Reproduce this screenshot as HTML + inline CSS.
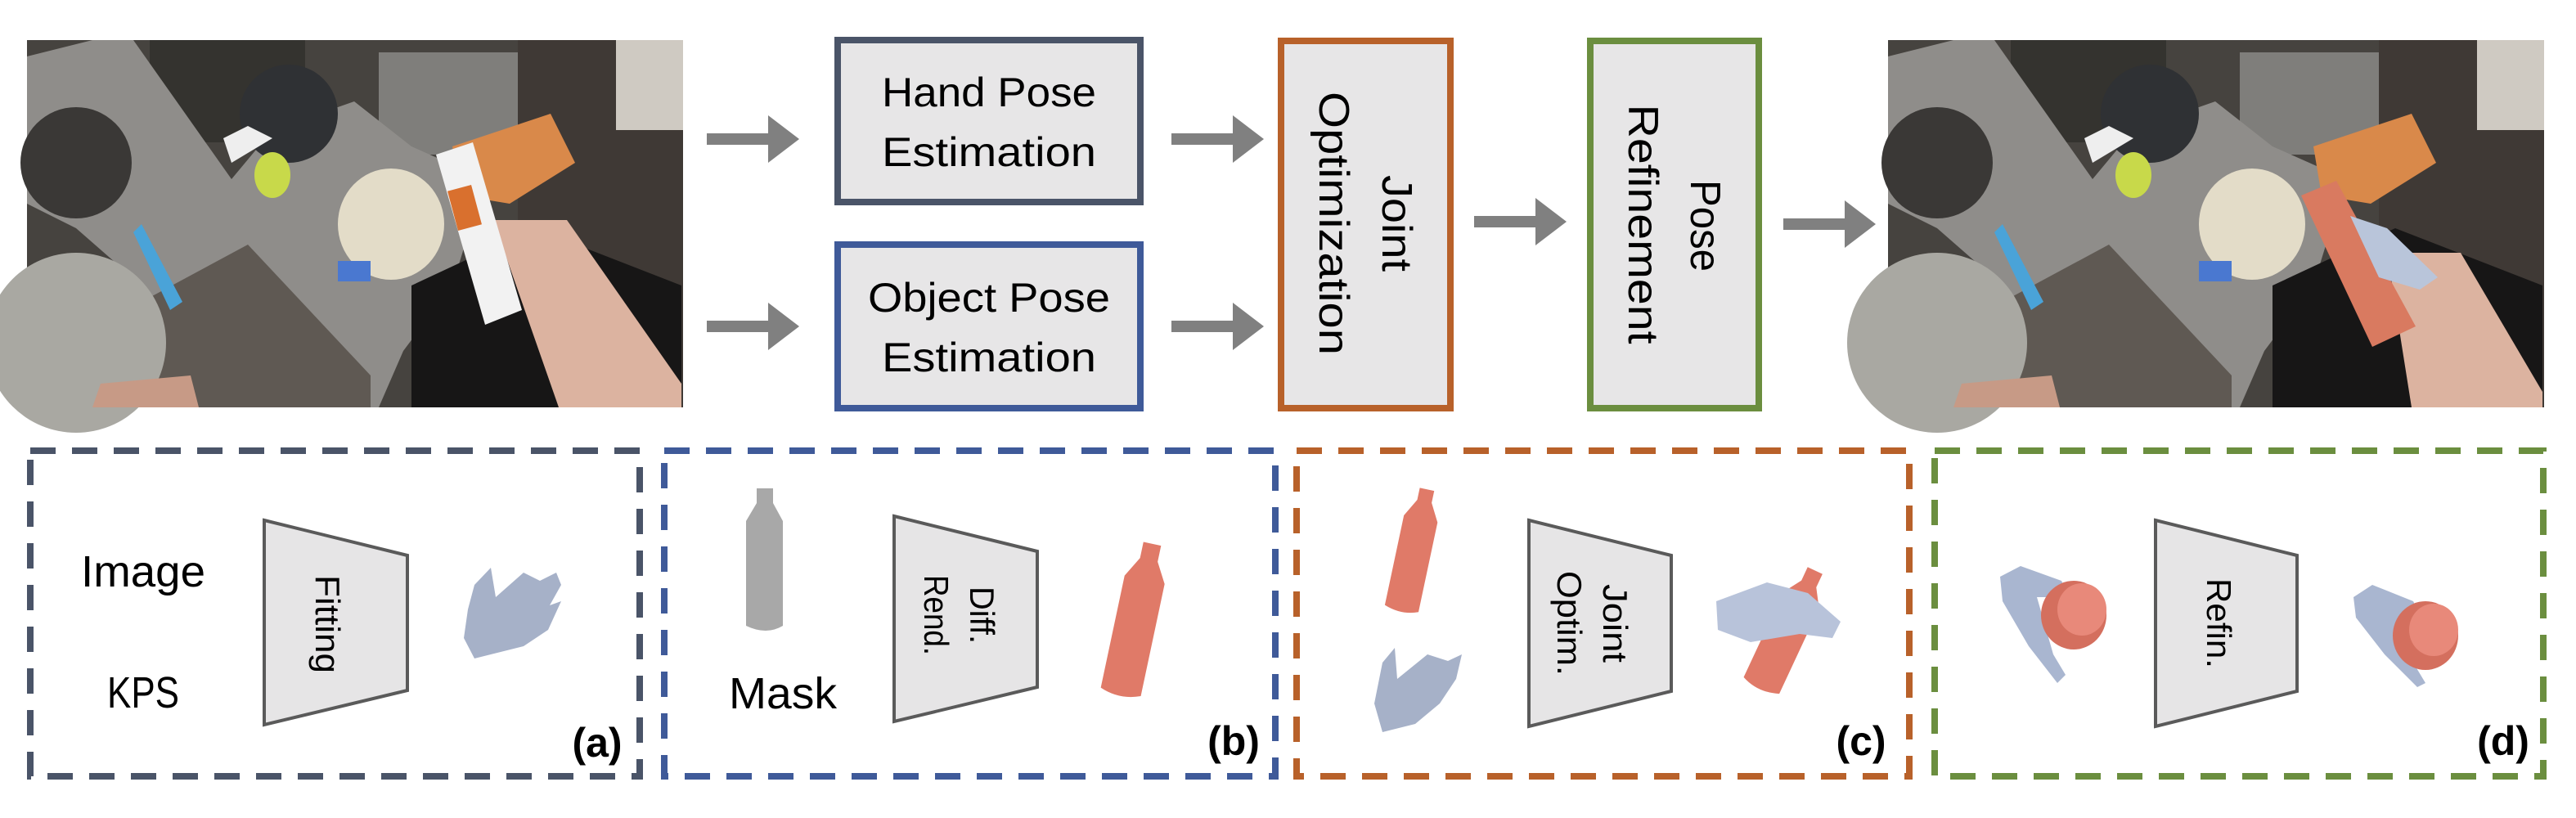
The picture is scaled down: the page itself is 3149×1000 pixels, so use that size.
<!DOCTYPE html>
<html><head><meta charset="utf-8"><style>
html,body{margin:0;padding:0;background:#fff;}
svg{display:block;}
text{font-family:"Liberation Sans",sans-serif;}
</style></head><body>
<svg width="3149" height="1000" viewBox="0 0 3149 1000" xmlns="http://www.w3.org/2000/svg">
<defs>
<g id="photo">
  <rect x="0" y="0" width="802" height="449" fill="#46433f"/>
  <rect x="150" y="0" width="190" height="125" fill="#34332f"/>
  <rect x="430" y="15" width="170" height="125" fill="#7f7e7b"/>
  <rect x="600" y="0" width="202" height="449" fill="#3f3935"/>
  <rect x="720" y="0" width="82" height="110" fill="#cfcac2"/>
  <polygon points="0,20 80,0 130,0 250,170 300,110 400,75 470,130 560,170 520,300 460,380 430,449 170,449 140,300 60,230 0,200" fill="#8f8d8a"/>
  <polygon points="150,449 140,320 270,250 420,410 420,449" fill="#5f5953"/>
  <polygon points="470,300 620,230 800,300 800,449 470,449" fill="#171616"/>
  <circle cx="60" cy="150" r="68" fill="#3a3836"/>
  <circle cx="320" cy="90" r="60" fill="#2f3134"/>
  <ellipse cx="60" cy="370" rx="110" ry="110" fill="#a9a8a2"/>
  <ellipse cx="445" cy="225" rx="65" ry="68" fill="#e3dcc8"/>
  <rect x="380" y="270" width="40" height="25" fill="#4a78d0"/>
  <polygon points="520,130 640,90 670,150 590,200 530,190" fill="#d9894a"/>
  <ellipse cx="300" cy="165" rx="22" ry="28" fill="#c8d94a"/>
  <polygon points="140,225 190,320 175,330 130,235" fill="#4aa3d8"/>
  <polygon points="240,120 270,105 300,120 250,150" fill="#eeeeee"/>
  <polygon points="90,420 200,410 210,449 80,449" fill="#c79a86"/>
</g>
</defs>

<!-- left photo -->
<g transform="translate(33,49)">
  <use href="#photo"/>
  <polygon points="570,220 660,220 800,420 800,449 650,449" fill="#dcb3a0"/>
  <polygon points="500,140 545,125 605,330 560,348" fill="#f2f2f2"/>
  <rect x="520" y="180" width="30" height="50" fill="#d9702e" transform="rotate(-15 535 205)"/>
</g>
<!-- right photo -->
<g transform="translate(2308,49)">
  <use href="#photo"/>
  <polygon points="610,260 700,260 800,430 800,449 640,449" fill="#dcb3a0"/>
  <polygon points="505,190 548,172 645,350 592,375" fill="#d97a60"/>
  <polygon points="565,215 610,230 672,290 650,305 600,290" fill="#b9c5da"/>
</g>

<!-- top boxes -->
<rect x="1024" y="49" width="370" height="198" fill="#e7e6e7" stroke="#4a5468" stroke-width="8"/>
<text x="1209" y="130" font-size="50" text-anchor="middle" textLength="262" lengthAdjust="spacingAndGlyphs">Hand Pose</text>
<text x="1209" y="203" font-size="50" text-anchor="middle" textLength="262" lengthAdjust="spacingAndGlyphs">Estimation</text>

<rect x="1024" y="299" width="370" height="200" fill="#e7e6e7" stroke="#3f5a99" stroke-width="8"/>
<text x="1209" y="381" font-size="50" text-anchor="middle" textLength="296" lengthAdjust="spacingAndGlyphs">Object Pose</text>
<text x="1209" y="454" font-size="50" text-anchor="middle" textLength="262" lengthAdjust="spacingAndGlyphs">Estimation</text>

<rect x="1566" y="50" width="207" height="449" fill="#e7e6e7" stroke="#b8612a" stroke-width="8"/>
<text transform="translate(1690,273) rotate(90)" font-size="52" text-anchor="middle" textLength="118" lengthAdjust="spacingAndGlyphs">Joint</text>
<text transform="translate(1613,273) rotate(90)" font-size="52" text-anchor="middle" textLength="322" lengthAdjust="spacingAndGlyphs">Optimization</text>

<rect x="1944" y="50" width="206" height="449" fill="#e7e6e7" stroke="#6b8e3f" stroke-width="8"/>
<text transform="translate(2067,276) rotate(90)" font-size="52" text-anchor="middle" textLength="112" lengthAdjust="spacingAndGlyphs">Pose</text>
<text transform="translate(1991,274) rotate(90)" font-size="52" text-anchor="middle" textLength="293" lengthAdjust="spacingAndGlyphs">Refinement</text>

<!-- arrows -->
<g fill="#808080">
  <path d="M864,163 h75 v-22 l38,29 l-38,29 v-22 h-75z"/>
  <path d="M864,392 h75 v-22 l38,29 l-38,29 v-22 h-75z"/>
  <path d="M1432,163 h75 v-22 l38,29 l-38,29 v-22 h-75z"/>
  <path d="M1432,392 h75 v-22 l38,29 l-38,29 v-22 h-75z"/>
  <path d="M1802,264 h75 v-22 l38,29 l-38,29 v-22 h-75z"/>
  <path d="M2180,267 h75 v-22 l38,29 l-38,29 v-22 h-75z"/>
</g>

<!-- dashed panels -->
<g fill="none" stroke-width="8" stroke-dasharray="31 20">
  <rect x="37" y="551" width="745" height="398" stroke="#4a5468"/>
  <rect x="812" y="551" width="747" height="398" stroke="#3f5a99"/>
  <rect x="1585" y="551" width="749" height="398" stroke="#b8612a"/>
  <rect x="2365" y="551" width="744" height="398" stroke="#6b8e3f"/>
</g>

<!-- trapezoids -->
<g fill="#e6e5e6" stroke="#5a5a5a" stroke-width="4">
  <polygon points="323,636 498,679 498,844 323,886"/>
  <polygon points="1093,631 1268,674 1268,840 1093,882"/>
  <polygon points="1869,636 2043,679 2043,845 1869,888"/>
  <polygon points="2635,636 2808,679 2808,845 2635,888"/>
</g>

<!-- panel a -->
<text x="175" y="717" font-size="54" text-anchor="middle" textLength="152" lengthAdjust="spacingAndGlyphs">Image</text>
<text x="175" y="865" font-size="54" text-anchor="middle" textLength="88" lengthAdjust="spacingAndGlyphs">KPS</text>
<text transform="translate(386,763) rotate(90)" font-size="42" text-anchor="middle" textLength="120" lengthAdjust="spacingAndGlyphs">Fitting</text>
<path d="M580,715 L600,694 L606,730 L640,700 L660,710 L680,700 L686,715 L672,740 L686,735 L670,770 L640,790 L580,805 L567,780 L572,745 Z" fill="#a6b1c8"/>
<text x="730" y="925" font-size="50" font-weight="bold" text-anchor="middle">(a)</text>

<!-- panel b -->
<path d="M925,597 h20 v18 l12,22 v128 q-20,12 -45,0 v-128 l13,-22z" fill="#a8a8a8"/>
<text x="957" y="866" font-size="54" text-anchor="middle" textLength="132" lengthAdjust="spacingAndGlyphs">Mask</text>
<text transform="translate(1186,752) rotate(90)" font-size="42" text-anchor="middle" textLength="70" lengthAdjust="spacingAndGlyphs">Diff.</text>
<text transform="translate(1130,752) rotate(90)" font-size="42" text-anchor="middle" textLength="98" lengthAdjust="spacingAndGlyphs">Rend.</text>
<g transform="rotate(12 1390 757)"><path d="M1378,663 h22 v20 l14,25 v140 q-25,10 -50,0 v-140 l14,-25z" fill="#e07a68"/></g>
<text x="1508" y="923" font-size="50" font-weight="bold" text-anchor="middle">(b)</text>

<!-- panel c -->
<g transform="rotate(12 1731 671)"><path d="M1720,597 h18 v15 l12,22 v112 q-20,8 -42,0 v-112 l12,-22z" fill="#e07a68"/></g>
<path d="M1690,810 L1705,792 L1708,830 L1745,800 L1770,808 L1787,800 L1780,830 L1760,860 L1730,885 L1690,895 L1680,860 Z" fill="#a6b1c8"/>
<text transform="translate(1960,762) rotate(90)" font-size="42" text-anchor="middle" textLength="96" lengthAdjust="spacingAndGlyphs">Joint</text>
<text transform="translate(1904,762) rotate(90)" font-size="42" text-anchor="middle" textLength="128" lengthAdjust="spacingAndGlyphs">Optim.</text>
<g transform="rotate(25 2185 770)"><path d="M2175,690 h20 v18 l14,22 v115 q-25,10 -48,0 v-115 l14,-22z" fill="#e07a68"/></g>
<path d="M2098,735 L2160,712 L2210,725 L2250,760 L2240,780 L2200,775 L2140,785 L2100,770 Z" fill="#b8c3da"/>
<text x="2275" y="923" font-size="50" font-weight="bold" text-anchor="middle">(c)</text>

<!-- panel d -->
<path d="M2445,705 L2470,692 L2520,710 L2530,730 L2490,730 L2510,800 L2525,825 L2515,835 L2480,790 L2448,735 Z" fill="#a9b6d0"/>
<ellipse cx="2535" cy="752" rx="40" ry="42" fill="#d46f5e"/>
<ellipse cx="2545" cy="745" rx="30" ry="32" fill="#e8897a"/>
<text transform="translate(2698,762) rotate(90)" font-size="42" text-anchor="middle" textLength="110" lengthAdjust="spacingAndGlyphs">Refin.</text>
<path d="M2877,730 L2900,715 L2950,735 L2960,755 L2930,760 L2950,810 L2965,835 L2955,840 L2915,800 L2880,755 Z" fill="#a9b6d0"/>
<ellipse cx="2965" cy="777" rx="40" ry="42" fill="#d46f5e"/>
<ellipse cx="2975" cy="770" rx="30" ry="32" fill="#e8897a"/>
<text x="3060" y="923" font-size="50" font-weight="bold" text-anchor="middle">(d)</text>
</svg>
</body></html>
